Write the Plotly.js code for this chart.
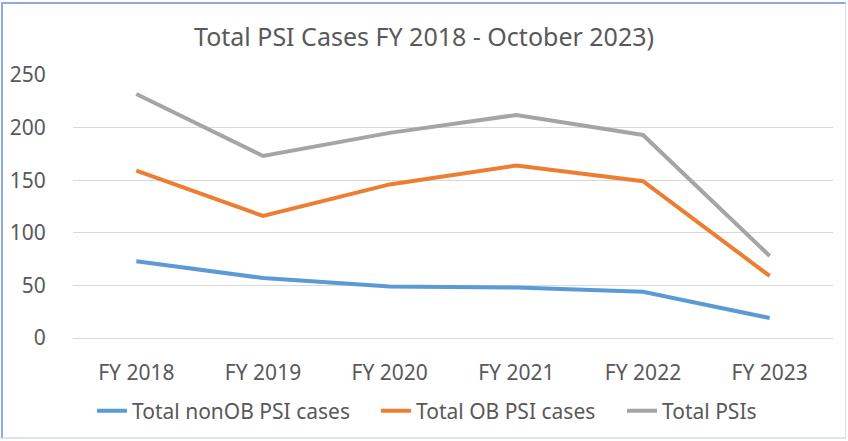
<!DOCTYPE html>
<html>
<head>
<meta charset="utf-8">
<script src="https://cdn.plot.ly/plotly-3.0.1.min.js"></script>
<style>
  html, body { margin: 0; padding: 0; background: #fff; }
  #wrap { position: relative; width: 848px; height: 441px; }
  #chart { width: 848px; height: 441px; }
  #frame { position: absolute; left: 1px; top: 2px; width: 845px; height: 437px;
           border-left: 2px solid #8FAADC; border-top: 2px solid #8FAADC;
           border-right: 1px solid #D6E0F2; border-bottom: 2px solid #DAE3F3;
           box-sizing: border-box; pointer-events: none; }
</style>
</head>
<body>
<div id="wrap">
  <div id="chart"></div>
  <div id="frame"></div>
</div>
<script>
const categories = ["FY 2018", "FY 2019", "FY 2020", "FY 2021", "FY 2022", "FY 2023"];
const nonObCases = [73, 57, 49, 48, 44, 19];
const obCases = [159, 116, 146, 164, 149, 59];
const totalPSIs = [232, 173, 195, 212, 193, 78];
const seriesNames = ["Total nonOB PSI cases", "Total OB PSI cases", "Total PSIs"];
const yTicks = [0, 50, 100, 150, 200, 250];

const FONT = '"Noto Sans", "DejaVu Sans", sans-serif';
const TXT = '#595959';

const traces = [
  { x: categories, y: nonObCases, name: seriesNames[0], type: 'scatter', mode: 'lines',
    line: { color: '#5B9BD5', width: 4 }, legend: 'legend' },
  { x: categories, y: obCases, name: seriesNames[1], type: 'scatter', mode: 'lines',
    line: { color: '#ED7D31', width: 4 }, legend: 'legend2' },
  { x: categories, y: totalPSIs, name: seriesNames[2], type: 'scatter', mode: 'lines',
    line: { color: '#A5A5A5', width: 4 }, legend: 'legend3' }
];

const legBase = { orientation: 'h', xref: 'container', yref: 'container', y: 1 - 411/441,
  yanchor: 'middle', xanchor: 'left', bgcolor: 'rgba(0,0,0,0)', borderwidth: 0,
  font: { family: FONT, size: 21, color: TXT } };

const layout = {
  width: 848, height: 441,
  paper_bgcolor: '#fff', plot_bgcolor: '#fff',
  margin: { l: 73, r: 15, t: 75, b: 103 },
  font: { family: FONT, size: 21, color: TXT },
  title: { text: 'Total PSI Cases FY 2018 - October 2023)', xref: 'container', x: 0.5, xanchor: 'center',
    yref: 'container', y: 1 - 37/441, yanchor: 'middle', font: { family: FONT, size: 25, color: TXT } },
  xaxis: { type: 'category', range: [-0.5, 5.5], showgrid: false, zeroline: false, showline: false,
    ticks: 'outside', ticklen: 0, ticklabelstandoff: 16, tickfont: { family: FONT, size: 21, color: TXT } },
  yaxis: { range: [0, 250], tickvals: yTicks, showgrid: true, gridcolor: '#D9D9D9', gridwidth: 1,
    zeroline: true, zerolinecolor: '#D9D9D9', zerolinewidth: 1, showline: false,
    ticks: 'outside', ticklen: 0, ticklabelstandoff: 22, tickfont: { family: FONT, size: 21, color: TXT } },
  legend: Object.assign({}, legBase, { x: 92/848 }),
  legend2: Object.assign({}, legBase, { x: 376/848 }),
  legend3: Object.assign({}, legBase, { x: 622/848 }),
  showlegend: true
};

Plotly.newPlot('chart', traces, layout, { staticPlot: true, displayModeBar: false });
</script>
</body>
</html>
